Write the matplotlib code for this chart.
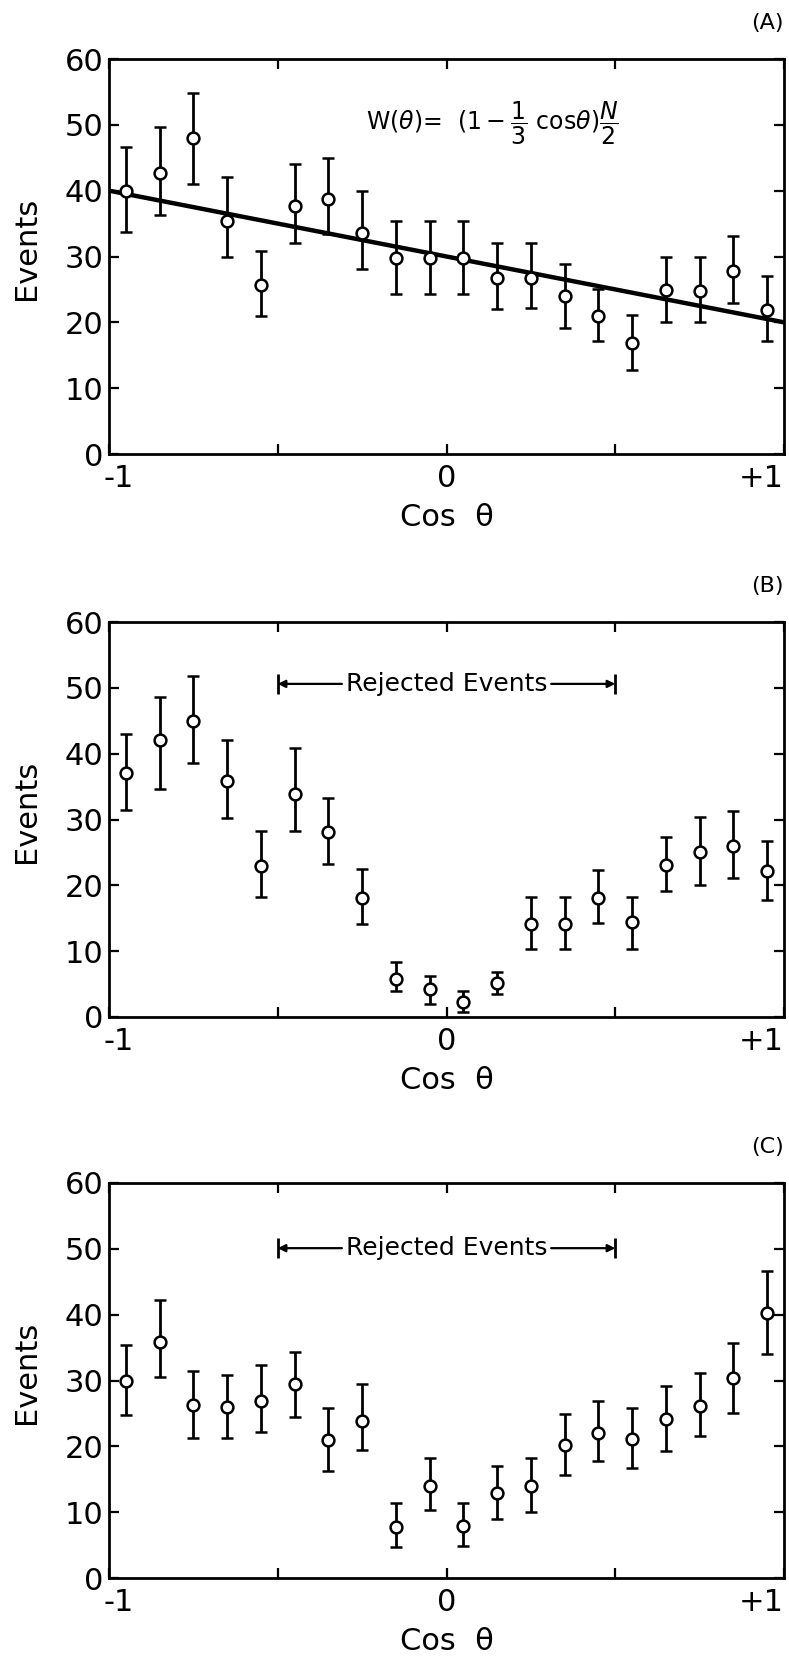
import matplotlib
matplotlib.use("Agg")
import matplotlib.pyplot as plt
import numpy as np

# cos(theta) bin centres, shared by all three panels
COS_BINS = [-0.95, -0.85, -0.75, -0.65, -0.55, -0.45, -0.35, -0.25, -0.15, -0.05,
            0.05, 0.15, 0.25, 0.35, 0.45, 0.55, 0.65, 0.75, 0.85, 0.95]

# panel A: all events
A_EVENTS = [40.0, 42.7, 48.0, 35.4, 25.7, 37.6, 38.7, 33.6, 29.8, 29.8,
            29.8, 26.7, 26.8, 24.0, 20.9, 16.9, 24.9, 24.8, 27.8, 21.9]
A_LOW = [33.7, 36.3, 41.0, 30.0, 20.9, 32.1, 33.4, 28.1, 24.3, 24.3,
         24.3, 22.1, 22.2, 19.1, 17.1, 12.8, 20.1, 20.1, 23.0, 17.1]
A_HIGH = [46.7, 49.7, 54.9, 42.1, 30.9, 44.1, 45.0, 40.0, 35.4, 35.4,
          35.4, 32.1, 32.1, 28.9, 25.0, 21.1, 29.9, 29.9, 33.1, 27.0]
FIT_X = [-1.0, 1.0]
FIT_Y = [40.0, 20.0]

# panel B
B_EVENTS = [37.0, 42.1, 45.0, 35.8, 23.0, 33.9, 28.1, 18.1, 5.8, 4.2,
            2.3, 5.2, 14.1, 14.1, 18.1, 14.4, 23.1, 25.1, 25.9, 22.2]
B_LOW = [31.5, 34.6, 38.6, 30.2, 18.3, 28.2, 23.2, 14.1, 3.9, 2.0,
         0.8, 3.5, 10.3, 10.3, 14.3, 10.3, 19.2, 20.1, 21.1, 17.8]
B_HIGH = [43.0, 48.6, 51.8, 42.1, 28.2, 40.9, 33.3, 22.5, 8.3, 6.2,
          3.9, 6.9, 18.2, 18.2, 22.4, 18.3, 27.4, 30.4, 31.3, 26.8]

# panel C
C_EVENTS = [30.0, 35.8, 26.3, 25.9, 26.9, 29.4, 21.0, 23.9, 7.7, 13.9,
            7.9, 12.9, 13.9, 20.2, 22.0, 21.1, 24.2, 26.2, 30.4, 40.2]
C_LOW = [24.7, 30.5, 21.2, 21.2, 22.2, 24.5, 16.3, 19.4, 4.7, 10.3,
         4.9, 9.0, 10.1, 15.6, 17.7, 16.7, 19.3, 21.5, 25.0, 34.0]
C_HIGH = [35.4, 42.3, 31.4, 30.9, 32.4, 34.3, 25.8, 29.4, 11.4, 18.3,
          11.4, 17.0, 18.2, 24.9, 26.9, 25.8, 29.2, 31.2, 35.7, 46.7]

REJECT_RANGE = [-0.5, 0.5]
REJECT_Y = {"B": 50.6, "C": 50.1}

X_TICKS = [-1.0, -0.5, 0.0, 0.5, 1.0]
# "-1" is drawn separately, nudged right of the y "0" as in the original
X_TICK_LABELS = ["", "", "0", "", "+1"]
Y_TICKS = [0, 10, 20, 30, 40, 50, 60]

plt.rcParams.update({
    "font.family": "DejaVu Sans",
    "mathtext.fontset": "dejavusans",
    "axes.linewidth": 2.0,
})

AX_LEFT, AX_W, AX_H = 109 / 789, 675 / 789, 395 / 1659
AX_BOTTOMS = {"A": 1 - 454 / 1659, "B": 1 - 1017 / 1659, "C": 1 - 1578 / 1659}


def style_axes(ax, tag):
    ax.set_xlim(-1, 1)
    ax.set_ylim(0, 60)
    ax.set_xticks(X_TICKS)
    ax.set_xticklabels(X_TICK_LABELS)
    ax.get_xticklabels()[-1].set_horizontalalignment("right")
    ax.annotate("-1", xy=(X_TICKS[0], 0), xycoords=("data", "axes fraction"),
                xytext=(7, -7), textcoords="offset points", ha="center",
                va="top", fontsize=22)
    ax.set_yticks(Y_TICKS)
    ax.tick_params(direction="in", length=7, width=1.6, top=True, right=True,
                   labelsize=22, colors="k")
    ax.tick_params(axis="y", pad=4)
    ax.tick_params(axis="x", pad=7)
    ax.set_ylabel("Events", fontsize=22)
    ax.yaxis.set_label_coords(-0.1, 0.52)
    ax.set_xlabel("Cos  θ", fontsize=22)
    ax.xaxis.set_label_coords(0.5, -0.162)
    ax.xaxis.label.set_verticalalignment("center")
    ax.text(1.0, 1.09, f"({tag})", transform=ax.transAxes, ha="right",
            va="center", fontsize=16)


def draw_points(ax, y, lo, hi):
    y = np.asarray(y)
    yerr = [y - np.asarray(lo), np.asarray(hi) - y]
    ax.errorbar(COS_BINS, y, yerr=yerr, fmt="o", ms=8.5, mfc="white", mec="k",
                mew=1.8, ecolor="k", elinewidth=2.0, capsize=4.5, capthick=2.4,
                zorder=3)


def draw_rejected(ax, yv):
    x0, x1 = REJECT_RANGE
    ax.text(0.0, yv, "Rejected Events", ha="center", va="center", fontsize=18)
    arrow = dict(arrowstyle="-|>", lw=1.6, color="k", shrinkA=0, shrinkB=0,
                 mutation_scale=11)
    ax.annotate("", xy=(x0, yv), xytext=(-0.31, yv), arrowprops=arrow)
    ax.annotate("", xy=(x1, yv), xytext=(0.31, yv), arrowprops=arrow)
    ax.plot(REJECT_RANGE, [yv, yv], ls="none", marker="|", ms=15, mew=2,
            color="k")


fig = plt.figure(figsize=(7.89, 16.59), dpi=100)

ax_a = fig.add_axes([AX_LEFT, AX_BOTTOMS["A"], AX_W, AX_H])
ax_a.plot(FIT_X, FIT_Y, color="k", lw=3.2, zorder=2)
draw_points(ax_a, A_EVENTS, A_LOW, A_HIGH)
ax_a.text(-0.24, 50.3, r"W($\theta$)=  $(1-\dfrac{1}{3}$ cos$\theta)\dfrac{N}{2}$",
          ha="left", va="center", fontsize=17)
style_axes(ax_a, "A")

ax_b = fig.add_axes([AX_LEFT, AX_BOTTOMS["B"], AX_W, AX_H])
draw_points(ax_b, B_EVENTS, B_LOW, B_HIGH)
draw_rejected(ax_b, REJECT_Y["B"])
style_axes(ax_b, "B")

ax_c = fig.add_axes([AX_LEFT, AX_BOTTOMS["C"], AX_W, AX_H])
draw_points(ax_c, C_EVENTS, C_LOW, C_HIGH)
draw_rejected(ax_c, REJECT_Y["C"])
style_axes(ax_c, "C")

fig.savefig("out.png", dpi=100)
